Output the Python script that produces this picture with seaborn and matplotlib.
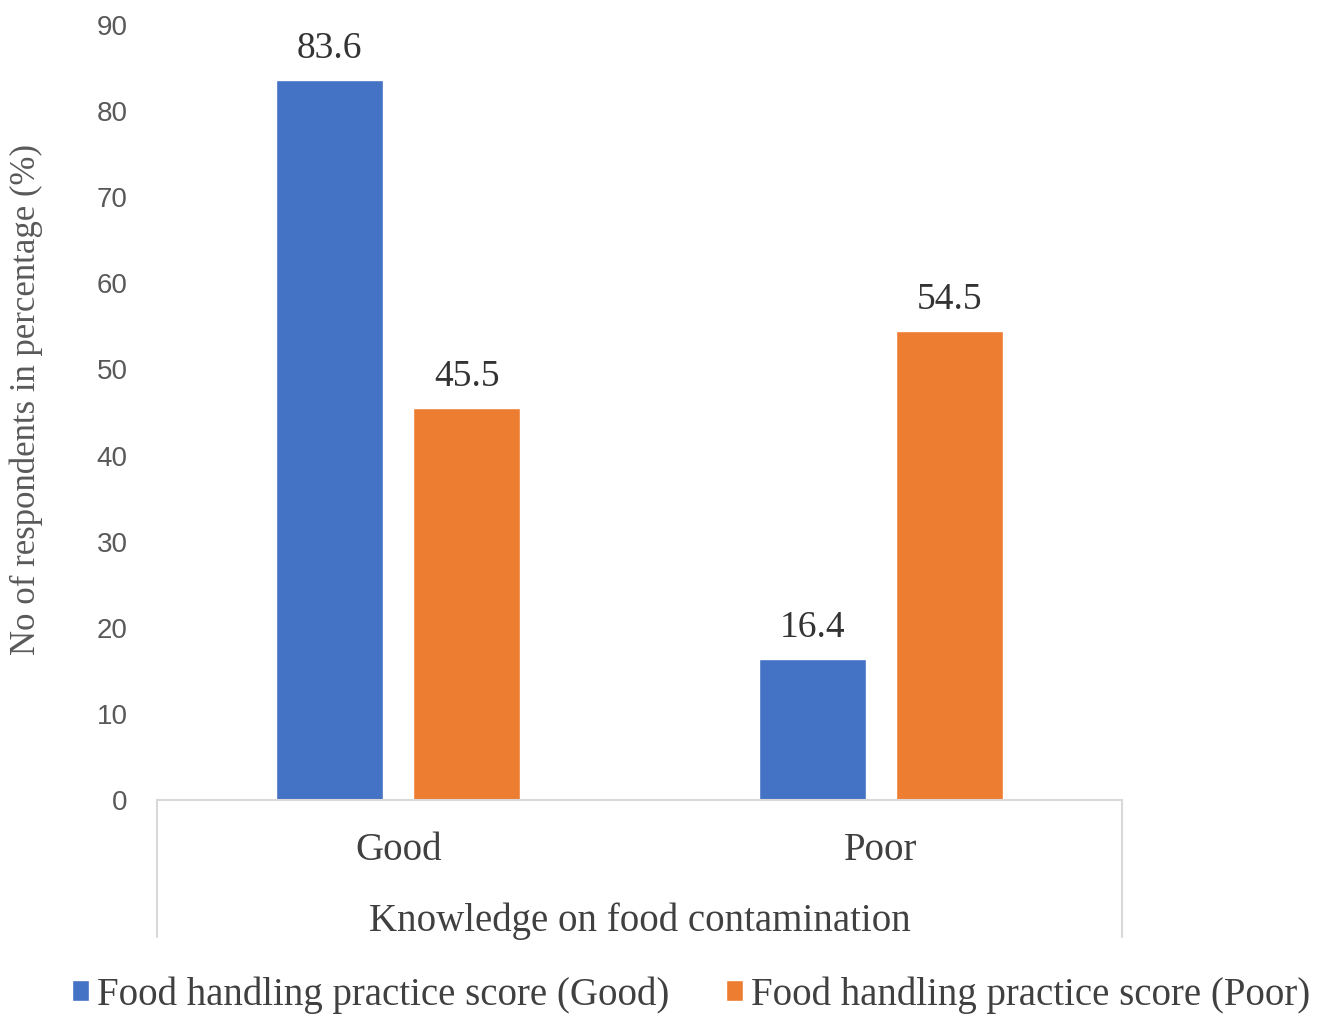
import matplotlib
matplotlib.use('Agg')
import matplotlib.pyplot as plt
import seaborn as sns
import pandas as pd

categories = ['Good', 'Poor']
practice_good = [83.6, 16.4]
practice_poor = [45.5, 54.5]
series = ['Food handling practice score (Good)', 'Food handling practice score (Poor)']
yticks = [0, 10, 20, 30, 40, 50, 60, 70, 80, 90]

df = pd.DataFrame({
    'Knowledge': categories + categories,
    'Practice': [series[0]] * 2 + [series[1]] * 2,
    'Pct': practice_good + practice_poor,
})

sns.set_style('white')
plt.rcParams['font.family'] = ['Liberation Serif', 'DejaVu Serif']

fig = plt.figure(figsize=(13.2, 10.19), dpi=100)
ax = fig.add_axes([157/1320, 1-800/1019, (1122-157)/1320, 775/1019])

sns.barplot(data=df, x='Knowledge', y='Pct', hue='Practice', order=categories,
            palette=['#4472C4', '#ED7D31'], width=0.568, gap=0.218,
            saturation=1, ax=ax, legend=True)

for c in ax.containers:
    ax.bar_label(c, fmt='%.1f', padding=10, fontsize=27, color='#333333')

ax.set_ylim(0, 90)
ax.set_xlim(-0.5, 1.5)
ax.set_yticks(yticks)
ax.set_yticklabels([str(t) for t in yticks], family='Liberation Sans', fontsize=20, color='#595959')
ax.tick_params(axis='y', length=0, pad=21)
ax.tick_params(axis='x', length=0, pad=23, labelsize=28, labelcolor='#404040')

ax.set_ylabel('No of respondents in percentage (%)', fontsize=25, color='#595959')
ax.yaxis.set_label_coords(-0.118, 0.517)
ax.set_xlabel('Knowledge on food contamination', fontsize=28, color='#404040', labelpad=24)

for s in ['top', 'right', 'left']:
    ax.spines[s].set_visible(False)
ax.spines['bottom'].set_color('#d9d9d9')
ax.spines['bottom'].set_linewidth(1.5)
for xa in [0, 1]:
    ax.plot([xa, xa], [0, -0.177], transform=ax.transAxes, color='#d9d9d9', lw=1.5, clip_on=False)

handles, labels = ax.get_legend_handles_labels()
ax.legend_.remove()
fig.legend(handles, labels, loc='center', bbox_to_anchor=(0.5235, 0.0236), ncol=2,
           frameon=False, fontsize=28, handlelength=0.45, handleheight=0.45,
           handletextpad=0.2, columnspacing=1.45, labelcolor='#404040')

fig.savefig('out.png', dpi=100)
